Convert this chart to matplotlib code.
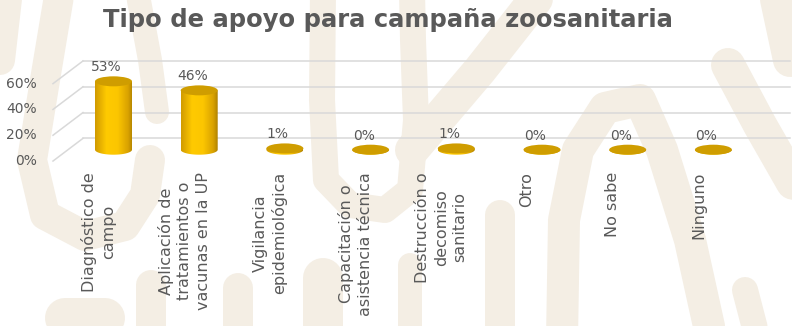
import numpy as np
import matplotlib
matplotlib.use("Agg")
import matplotlib.pyplot as plt
from matplotlib.patches import Ellipse, PathPatch
from matplotlib.path import Path
from matplotlib.colors import LinearSegmentedColormap

# datos de la gráfica
title = "Tipo de apoyo para campaña zoosanitaria"
categories = [
    "Diagnóstico de\ncampo",
    "Aplicación de\ntratamientos o\nvacunas en la UP",
    "Vigilancia\nepidemiológica",
    "Capacitación o\nasistencia técnica",
    "Destrucción o\ndecomiso\nsanitario",
    "Otro",
    "No sabe",
    "Ninguno",
]
values = [53, 46, 1, 0, 1, 0, 0, 0]
y_ticks = [0, 20, 40, 60]

TXT = "#595959"
GRID = "#D9D9D9"
BEIGE = "#F4EEE4"
TOP = "#CF9D00"

W, H = 792, 326
PX_CAT, PX_PCT = 85.7, 1.29      # pixels per category / per percent
X0_PX, Y0_PX = 113.5, 149.7      # first bar centre, 0% level (pixels from top-left)
DX, DY = 15 / PX_CAT, 11.35 / PX_PCT   # half depth of the 3D box
WALL_L, WALL_R = -0.531, 7.72
BAR_W = 37 / PX_CAT
ELL_H = 10 / PX_PCT

fig = plt.figure(figsize=(W / 100, H / 100), dpi=100)
fig.patch.set_facecolor("white")

# marca de agua de fondo (trazos gruesos en pixeles)
strokes = [
    ([(8, -10), (0, 60)], 30),
    ([(60, -10), (45, 80), (32, 160), (45, 215), (85, 236), (125, 226), (145, 195), (150, 160)], 30),
    ([(137, -10), (150, 60), (157, 112)], 24),
    ([(323, -10), (322, 100), (326, 180), (350, 205), (385, 210), (410, 190), (416, 120),
      (413, 40), (412, -10)], 26),
    ([(543, -10), (480, 70), (412, 150)], 34),
    ([(562, 340), (564, 220), (578, 150), (605, 108), (640, 100), (662, 150), (690, 240),
      (712, 340)], 32),
    ([(728, 65), (760, 125), (800, 195)], 34),
    ([(775, -10), (790, 60)], 34),
    ([(745, 290), (758, 340)], 26),
    ([(500, 215), (500, 340)], 30),
    ([(65, 318), (105, 318)], 40),
    ([(151, 285), (151, 340)], 30),
    ([(238, 288), (238, 340)], 30),
    ([(323, 278), (323, 340)], 40),
    ([(410, 265), (410, 340)], 24),
]
bg = fig.add_axes([0, 0, 1, 1], zorder=0)
bg.set_xlim(0, W)
bg.set_ylim(H, 0)
bg.axis("off")
for pts, w in strokes:
    xs, ys = zip(*pts)
    bg.plot(xs, ys, color=BEIGE, lw=w * 0.72, solid_capstyle="round", solid_joinstyle="round")

# ejes en el plano de las barras
xlim = (-1.0, 8.0)
ylim = (-20, 80)
left = (X0_PX + xlim[0] * PX_CAT) / W
width = (xlim[1] - xlim[0]) * PX_CAT / W
bottom = (H - (Y0_PX - ylim[0] * PX_PCT)) / H
height = (ylim[1] - ylim[0]) * PX_PCT / H
ax = fig.add_axes([left, bottom, width, height], zorder=1)
ax.patch.set_alpha(0)
ax.axis("off")

# pared del fondo y lateral
for t in y_ticks:
    ax.plot([WALL_L + DX, WALL_R + DX], [t + DY, t + DY], color=GRID, lw=1.1, zorder=1)
    ax.plot([WALL_L - DX, WALL_L + DX], [t - DY, t + DY], color=GRID, lw=1.1, zorder=1)
    ax.annotate(f"{t}%", (WALL_L - DX, t - DY), xytext=(-16, 0), textcoords="offset pixels",
                ha="right", va="center", fontsize=10, color=TXT)

# cilindros
cmap = LinearSegmentedColormap.from_list(
    "oro", [(0, "#D19B00"), (0.3, "#FFCA00"), (0.6, "#FCC600"), (0.88, "#D9A200"), (1, "#B08200")])
grad = np.linspace(0, 1, 64).reshape(1, -1)
t_arc = np.linspace(np.pi, 2 * np.pi, 40)
for i, v in enumerate(values):
    x0, x1 = i - BAR_W / 2, i + BAR_W / 2
    arc = np.column_stack([i + BAR_W / 2 * np.cos(t_arc), ELL_H / 2 * np.sin(t_arc)])
    verts = np.vstack([[x0, v], arc, [x1, v], [x0, v]])
    body = PathPatch(Path(verts), facecolor="none", edgecolor="none")
    ax.add_patch(body)
    im = ax.imshow(grad, cmap=cmap, extent=[x0, x1, -ELL_H / 2, v], aspect="auto",
                   origin="lower", zorder=3, interpolation="bilinear")
    im.set_clip_path(body)
    ax.add_patch(Ellipse((i, v), BAR_W, ELL_H, facecolor=TOP, edgecolor="none", zorder=4))
    ax.annotate(f"{v}%", (i, v), xytext=(-7, 7), textcoords="offset pixels",
                ha="center", va="bottom", fontsize=10, color=TXT, zorder=5)

# etiquetas de categoría
for i, cat in enumerate(categories):
    ax.annotate(cat, (i - DX, -DY), xytext=(0, -11), textcoords="offset pixels",
                rotation=90, ha="center", va="top", multialignment="center",
                linespacing=1.3, fontsize=11.5, color=TXT)

ax.set_xlim(*xlim)
ax.set_ylim(*ylim)

fig.text(388 / W, 1 - 27 / H, title, ha="center", va="baseline",
         fontsize=17.5, fontweight="bold", color=TXT)

fig.savefig("out.png", dpi=100, facecolor="white")
